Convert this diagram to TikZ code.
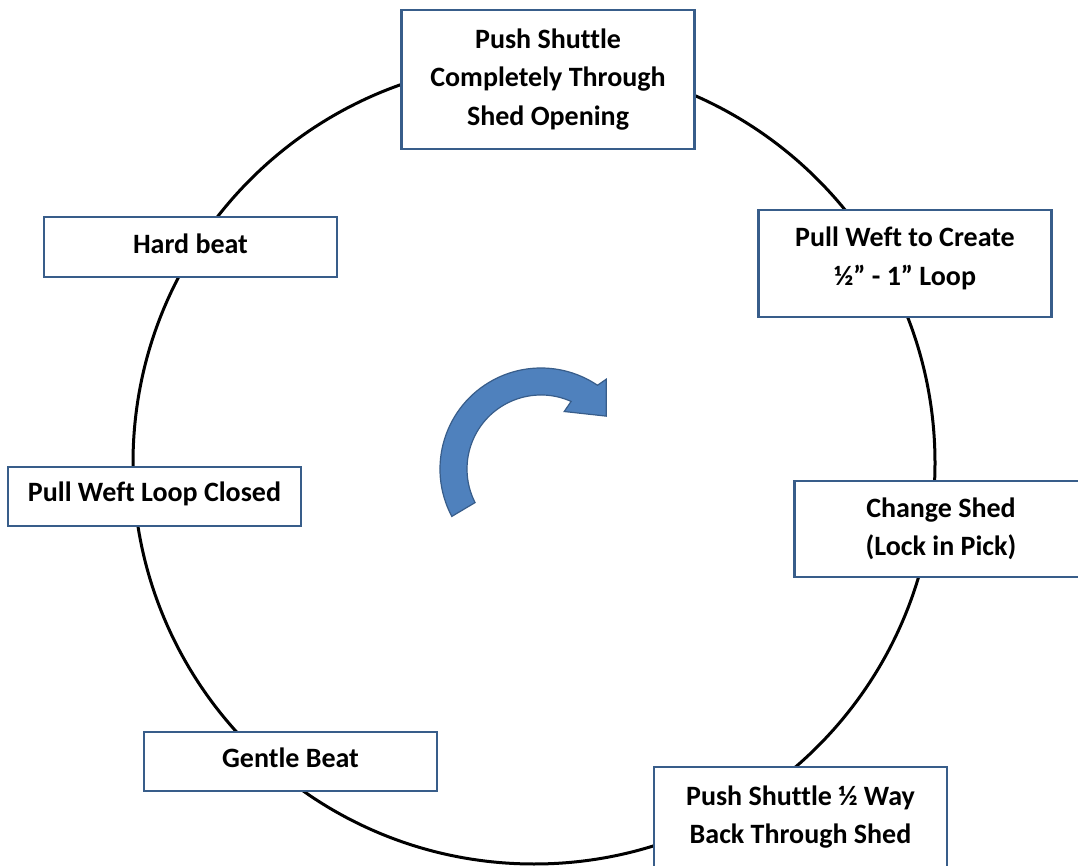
\documentclass[tikz,border=0pt]{standalone}
\usepackage[rgb]{xcolor}
\usepackage{tikz}
\usepackage{fontspec}
\setmainfont{Carlito}[Ligatures=NoCommon]
\definecolor{boxblue}{RGB}{56,93,138}
\definecolor{arrowblue}{RGB}{79,129,189}

\begin{document}
\begin{tikzpicture}[x=1pt, y=1pt,
  stepbox/.style={draw=boxblue, line width=2.6pt, fill=white, align=center,
    font=\fontsize{28}{38.5}\selectfont\bfseries, minimum width=293pt, inner sep=0pt}]
\useasboundingbox (0,0) rectangle (1078,865);

% the cycle
\draw[black, line width=3pt] (534,402) circle (401);

%% steps round the cycle
\path
(548,785.5) node[stepbox, minimum height=139pt](push){Push Shuttle\\Completely Through\\Shed Opening}
(905,601.5) node[stepbox, minimum height=107pt, text depth=15pt](create){Pull Weft to Create\\½” - 1” Loop}
(941,336) node[stepbox, minimum height=96pt](change){Change Shed\\(Lock in Pick)}
(800.5,48) node[stepbox, minimum height=100pt](back){Push Shuttle ½ Way\\Back Through Shed}
(290.5,103.5) node[stepbox, minimum height=59pt, text depth=7pt](gentle){Gentle Beat}
(154.5,368.5) node[stepbox, minimum height=59pt, text depth=9pt](closed){Pull Weft Loop Closed}
(190.5,618) node[stepbox, minimum height=60pt, text depth=6pt](hard){Hard beat};

%% turning arrow in the middle
\begin{scope}[shift={(541,396)}]
\filldraw[fill=arrowblue, draw=boxblue, line width=1.2pt]
 (208:101pt) arc[start angle=208, end angle=56, radius=101pt]
 -- (54:111pt) -- (39:84pt) -- (68:62pt) -- (66:74pt)
 arc[start angle=66, end angle=207, radius=74pt] -- cycle;
\end{scope}

\end{tikzpicture}
\end{document}
